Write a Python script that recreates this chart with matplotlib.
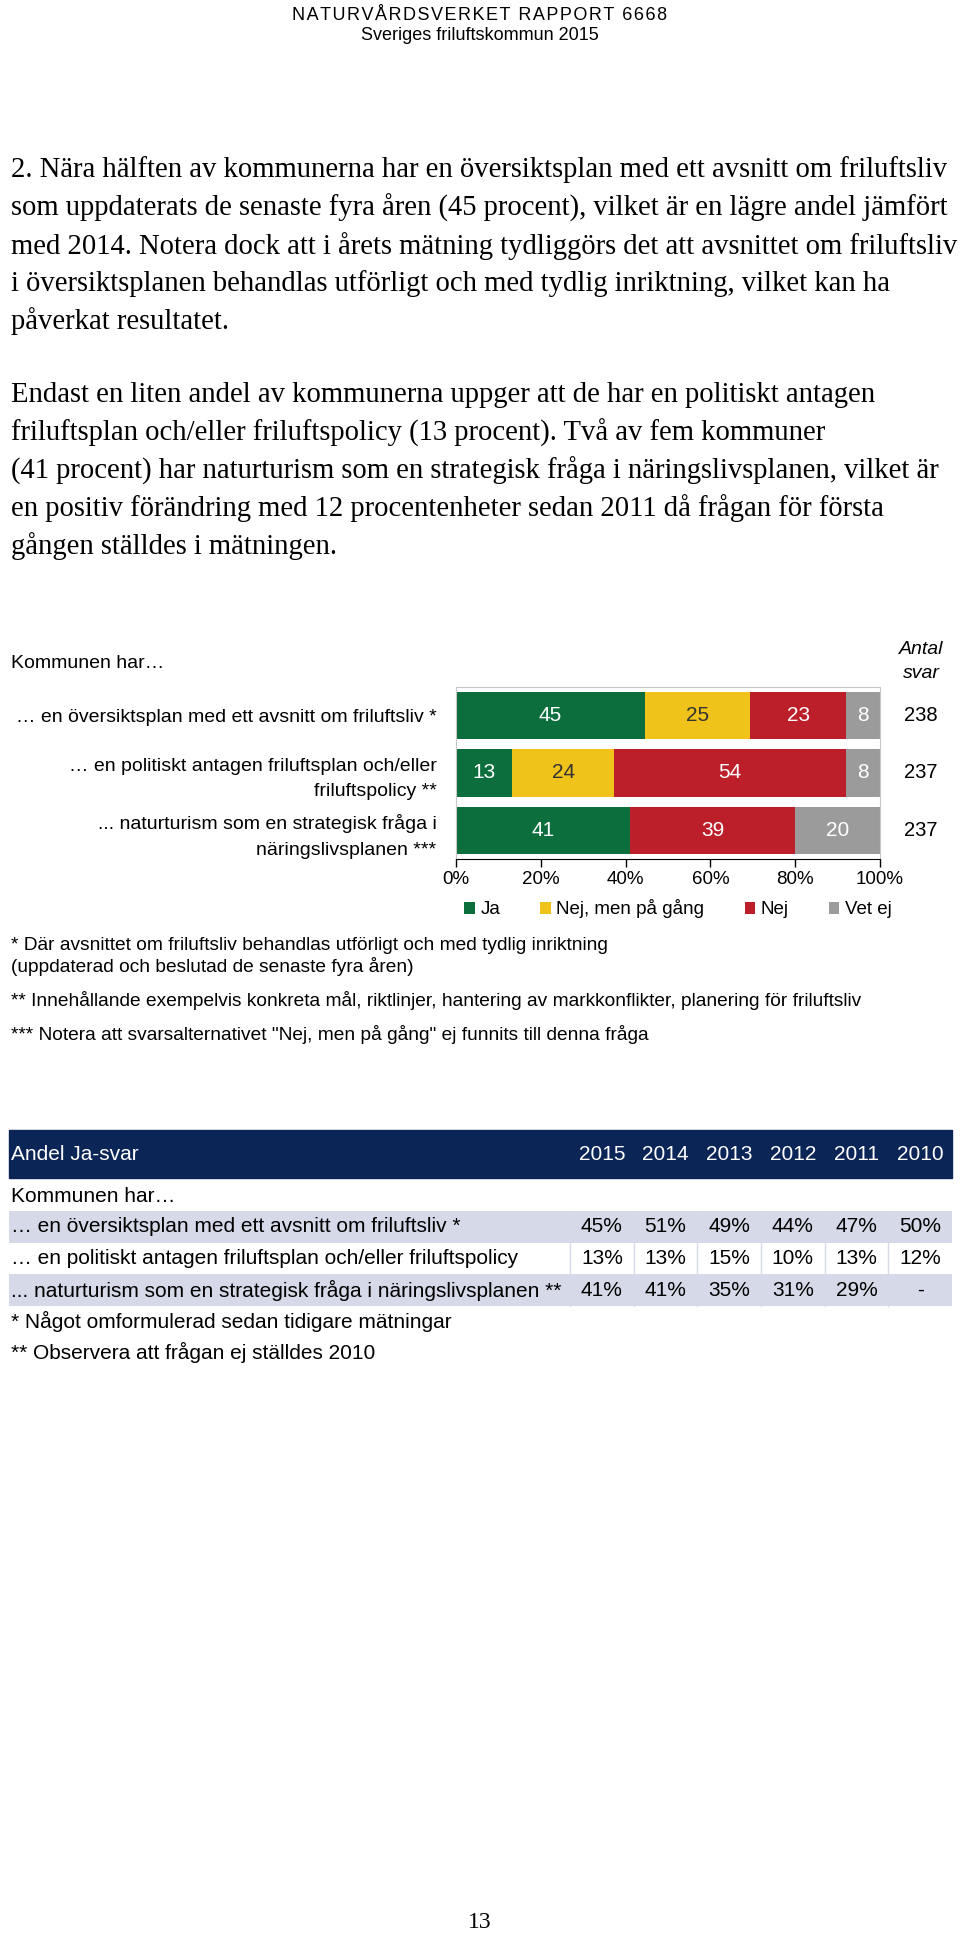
import numpy as np
import matplotlib.pyplot as plt
from matplotlib.patches import Rectangle

W, H = 960, 1957
DPI = 100
SANS = "Liberation Sans"
SERIF = "Liberation Serif"

# --- data: stapeldiagram ---
kategorier = ["… en översiktsplan med ett avsnitt om friluftsliv *",
              "… en politiskt antagen friluftsplan och/eller\nfriluftspolicy **",
              "... naturturism som en strategisk fråga i\nnäringslivsplanen ***"]
svar_namn = ["Ja", "Nej, men på gång", "Nej", "Vet ej"]
ja = [45, 13, 41]
nej_pa_gang = [25, 24, 0]
nej = [23, 54, 39]
vet_ej = [8, 8, 20]
antal_svar = [238, 237, 237]
x_ticks = [0, 20, 40, 60, 80, 100]

farger = ["#0b6e3c", "#f0c31b", "#bc1e2a", "#9b9b9b"]
textfarger = ["white", "#333333", "white", "white"]

# --- data: tabell ---
ar = ["2015", "2014", "2013", "2012", "2011", "2010"]
tabell_rader = ["… en översiktsplan med ett avsnitt om friluftsliv *",
                "… en politiskt antagen friluftsplan och/eller friluftspolicy",
                "... naturturism som en strategisk fråga i näringslivsplanen **"]
andel_ja = [[45, 51, 49, 44, 47, 50],
            [13, 13, 15, 10, 13, 12],
            [41, 41, 35, 31, 29, None]]

# --- brödtext ---
stycke1 = ["2. Nära hälften av kommunerna har en översiktsplan med ett avsnitt om friluftsliv",
           "som uppdaterats de senaste fyra åren (45 procent), vilket är en lägre andel jämfört",
           "med 2014. Notera dock att i årets mätning tydliggörs det att avsnittet om friluftsliv",
           "i översiktsplanen behandlas utförligt och med tydlig inriktning, vilket kan ha",
           "påverkat resultatet."]
stycke2 = ["Endast en liten andel av kommunerna uppger att de har en politiskt antagen",
           "friluftsplan och/eller friluftspolicy (13 procent). Två av fem kommuner",
           "(41 procent) har naturturism som en strategisk fråga i näringslivsplanen, vilket är",
           "en positiv förändring med 12 procentenheter sedan 2011 då frågan för första",
           "gången ställdes i mätningen."]
fotnoter_diagram = ["* Där avsnittet om friluftsliv behandlas utförligt och med tydlig inriktning",
                    "(uppdaterad och beslutad de senaste fyra åren)",
                    "** Innehållande exempelvis konkreta mål, riktlinjer, hantering av markkonflikter, planering för friluftsliv",
                    "*** Notera att svarsalternativet \"Nej, men på gång\" ej funnits till denna fråga"]
fotnoter_tabell = ["* Något omformulerad sedan tidigare mätningar",
                   "** Observera att frågan ej ställdes 2010"]

fig = plt.figure(figsize=(W / DPI, H / DPI), dpi=DPI)
fig.patch.set_facecolor("white")

# sidan i pixelkoordinater
page = fig.add_axes([0, 0, 1, 1])
page.set_xlim(0, W)
page.set_ylim(H, 0)
page.axis("off")

rubrik = "\u200a".join("NATURVÅRDSVERKET RAPPORT 6668")
page.text(480, 15, rubrik, ha="center", va="center", family=[SANS, "DejaVu Sans"], size=13)
page.text(480, 36, "Sveriges friluftskommun 2015", ha="center", va="center",
          family=SANS, size=13)

for i, rad in enumerate(stycke1):
    page.text(11, 170 + 37.8 * i, rad, va="center", family=SERIF, size=20.6)
for i, rad in enumerate(stycke2):
    page.text(11, 395 + 37.8 * i, rad, va="center", family=SERIF, size=20.6)

# --- stapeldiagram ---
page.text(11, 663, "Kommunen har…", va="center", family=SANS, size=14)
page.text(921, 650, "Antal", ha="center", va="center", family=SANS, size=14, style="italic")
page.text(921, 674, "svar", ha="center", va="center", family=SANS, size=14, style="italic")

ax = fig.add_axes([456 / W, 1 - 859 / H, 424 / W, 172 / H])
data = np.array([ja, nej_pa_gang, nej, vet_ej], dtype=float)
procent = data / data.sum(axis=0) * 100
y = np.arange(len(kategorier))
left = np.zeros(len(kategorier))
for k in range(len(svar_namn)):
    ax.barh(y, procent[k], left=left, height=0.83, color=farger[k], label=svar_namn[k])
    for i in range(len(y)):
        if data[k, i] > 0:
            ax.text(left[i] + procent[k, i] / 2, y[i], f"{data[k, i]:.0f}", ha="center",
                    va="center", color=textfarger[k], family=SANS, size=15)
    left += procent[k]

for i, n in enumerate(antal_svar):
    ax.text(109.67, y[i], str(n), ha="center", va="center", family=SANS, size=14.5,
            clip_on=False)

ax.set_xlim(0, 100)
ax.set_ylim(2.5, -0.5)
ax.set_yticks(y)
ax.set_yticklabels(kategorier, family=SANS, size=14, linespacing=1.65)
ax.set_xticks(x_ticks)
ax.set_xticklabels([f"{v}%" for v in x_ticks], family=SANS, size=13.5)
ax.tick_params(axis="y", length=0, pad=14)
ax.tick_params(axis="x", direction="out", length=6, width=1, pad=3)
for s in ["top", "left", "right"]:
    ax.spines[s].set_color("#c8c8c8")
ax.spines["bottom"].set_color("black")

ax.legend(loc="center", bbox_to_anchor=(678 / W, 1 - 909 / H), bbox_transform=fig.transFigure,
          ncol=4, frameon=False, prop={"family": SANS, "size": 13.5}, handlelength=0.55,
          handleheight=0.55, handletextpad=0.3, columnspacing=2.15)

fn_y = [945, 967, 1001, 1034]
for yy, t in zip(fn_y, fotnoter_diagram):
    page.text(11, yy, t, va="center", family=SANS, size=13.8)

# --- tabell ---
navy = "#0b2557"
lila = "#d6dae8"
x_lab, x_data, x_slut = 9, 570, 952
cw = (x_slut - x_data) / len(ar)
page.add_patch(Rectangle((x_lab, 1130), x_slut - x_lab, 48, color=navy))
page.text(11, 1154, "Andel Ja-svar", va="center", color="white", family=SANS, size=15)
for j, a in enumerate(ar):
    page.text(x_data + cw * (j + 0.5), 1154, a, ha="center", va="center", color="white",
              family=SANS, size=15)
page.text(11, 1196, "Kommunen har…", va="center", family=SANS, size=15)

rad_topp, rad_h = 1211, 31.7
for i, (namn, vals) in enumerate(zip(tabell_rader, andel_ja)):
    yt = rad_topp + rad_h * i
    if i % 2 == 0:
        page.add_patch(Rectangle((x_lab, yt), x_slut - x_lab, rad_h, color=lila, lw=0))
    yc = yt + rad_h / 2
    page.text(11, yc, namn, va="center", family=SANS, size=15)
    for j, v in enumerate(vals):
        s = "-" if v is None else f"{v}%"
        page.text(x_data + cw * (j + 0.5), yc, s, ha="center", va="center", family=SANS, size=15)
for j in range(len(ar)):
    xx = x_data + cw * j
    page.plot([xx, xx], [rad_topp, rad_topp + rad_h * 3], color=lila, lw=1)

for i, t in enumerate(fotnoter_tabell):
    page.text(11, 1321 + 31 * i, t, va="center", family=SANS, size=15)

page.text(480, 1922, "13", ha="center", va="center", family=SERIF, size=17)

fig.savefig("out.png", dpi=DPI)
